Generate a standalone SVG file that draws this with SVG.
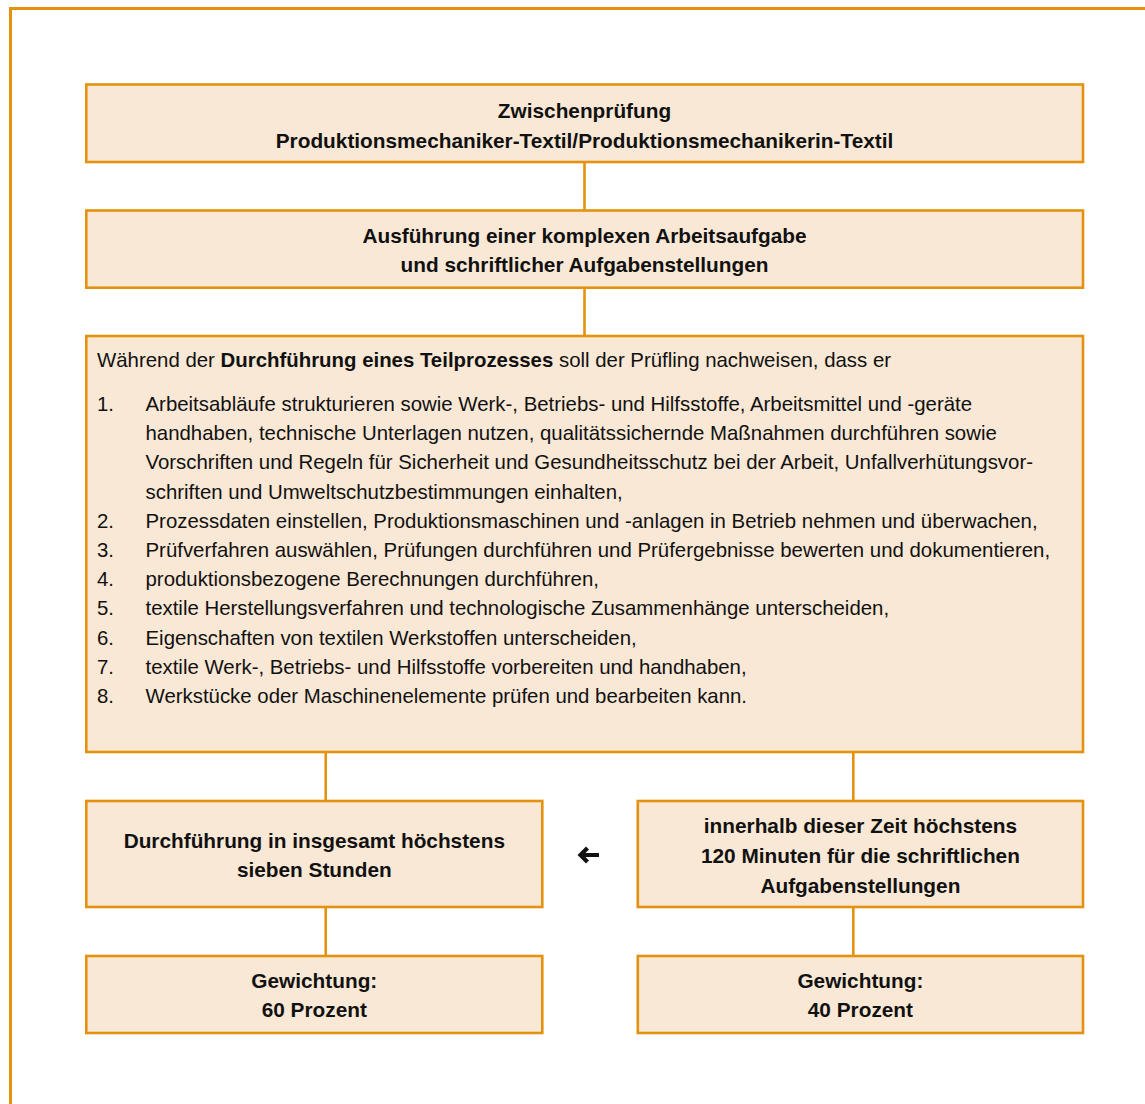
<svg xmlns="http://www.w3.org/2000/svg" width="1145" height="1104" viewBox="0 0 1145 1104">
  <style>
    .box { fill: #F9E8D5; stroke: #E4910E; stroke-width: 2.6; }
    .frame { fill: none; stroke: #E4910E; stroke-width: 3; }
    .link { fill: none; stroke: #E4910E; stroke-width: 2.6; }
    text { font-family: "Liberation Sans", Arial, sans-serif; font-size: 20.4px; fill: #111; }
    .h { font-weight: bold; font-size: 20.8px; text-anchor: middle; }
    .b { font-weight: bold; }
  </style>

  <!-- page frame (left and top edges) -->
  <path class="frame" d="M10.5,1104 V8.5 H1145"/>

  <!-- connectors -->
  <g id="connectors">
    <line class="link" x1="584.5" y1="162" x2="584.5" y2="210.5"/>
    <line class="link" x1="584.5" y1="287.7" x2="584.5" y2="336"/>
    <line class="link" x1="325.7" y1="752" x2="325.7" y2="801"/>
    <line class="link" x1="853.3" y1="752" x2="853.3" y2="801"/>
    <line class="link" x1="325.7" y1="907" x2="325.7" y2="956"/>
    <line class="link" x1="853.3" y1="907" x2="853.3" y2="956"/>
    <!-- left-pointing arrow between the time boxes -->
    <path d="M587.5,848 L580.5,855 L587.5,862 M581,855 H599" fill="none" stroke="#111" stroke-width="4.2"/>
  </g>

  <g id="node-zwischenpruefung">
    <rect class="box" x="86.3" y="84.5" width="996.7" height="77.5"/>
    <text class="h" x="584.5" y="118">Zwischenprüfung</text>
    <text class="h" x="584.5" y="148">Produktionsmechaniker-Textil/Produktionsmechanikerin-Textil</text>
  </g>

  <g id="node-ausfuehrung">
    <rect class="box" x="86.3" y="210.5" width="996.7" height="77.2"/>
    <text class="h" x="584.5" y="243">Ausführung einer komplexen Arbeitsaufgabe</text>
    <text class="h" x="584.5" y="272">und schriftlicher Aufgabenstellungen</text>
  </g>

  <g id="node-anforderungen">
    <rect class="box" x="86.3" y="336" width="996.7" height="416"/>
    <text x="97" y="367">Während der <tspan class="b">Durchführung eines Teilprozesses</tspan> soll der Prüfling nachweisen, dass er</text>
    <g>
      <text x="97" y="411">1.</text>
      <text x="145.5" y="411">Arbeitsabläufe strukturieren sowie Werk-, Betriebs- und Hilfsstoffe, Arbeitsmittel und -geräte</text>
      <text x="145.5" y="440.2">handhaben, technische Unterlagen nutzen, qualitätssichernde Maßnahmen durchführen sowie</text>
      <text x="145.5" y="469.4">Vorschriften und Regeln für Sicherheit und Gesundheitsschutz bei der Arbeit, Unfallverhütungsvor-</text>
      <text x="145.5" y="498.6">schriften und Umweltschutzbestimmungen einhalten,</text>
      <text x="97" y="527.8">2.</text>
      <text x="145.5" y="527.8">Prozessdaten einstellen, Produktionsmaschinen und -anlagen in Betrieb nehmen und überwachen,</text>
      <text x="97" y="557">3.</text>
      <text x="145.5" y="557">Prüfverfahren auswählen, Prüfungen durchführen und Prüfergebnisse bewerten und dokumentieren,</text>
      <text x="97" y="586.2">4.</text>
      <text x="145.5" y="586.2">produktionsbezogene Berechnungen durchführen,</text>
      <text x="97" y="615.4">5.</text>
      <text x="145.5" y="615.4">textile Herstellungsverfahren und technologische Zusammenhänge unterscheiden,</text>
      <text x="97" y="644.6">6.</text>
      <text x="145.5" y="644.6">Eigenschaften von textilen Werkstoffen unterscheiden,</text>
      <text x="97" y="673.8">7.</text>
      <text x="145.5" y="673.8">textile Werk-, Betriebs- und Hilfsstoffe vorbereiten und handhaben,</text>
      <text x="97" y="703">8.</text>
      <text x="145.5" y="703">Werkstücke oder Maschinenelemente prüfen und bearbeiten kann.</text>
    </g>
  </g>

  <g id="node-dauer-gesamt">
    <rect class="box" x="86.3" y="801" width="456" height="106"/>
    <text class="h" x="314.3" y="848">Durchführung in insgesamt höchstens</text>
    <text class="h" x="314.3" y="877">sieben Stunden</text>
  </g>

  <g id="node-dauer-schriftlich">
    <rect class="box" x="637.8" y="801" width="445.2" height="106"/>
    <text class="h" x="860.4" y="833.3">innerhalb dieser Zeit höchstens</text>
    <text class="h" x="860.4" y="863.2">120 Minuten für die schriftlichen</text>
    <text class="h" x="860.4" y="892.8">Aufgabenstellungen</text>
  </g>

  <g id="node-gewichtung-60">
    <rect class="box" x="86.3" y="956" width="456" height="77"/>
    <text class="h" x="314.3" y="988.3">Gewichtung:</text>
    <text class="h" x="314.3" y="1017.3">60 Prozent</text>
  </g>

  <g id="node-gewichtung-40">
    <rect class="box" x="637.8" y="956" width="445.2" height="77"/>
    <text class="h" x="860.4" y="988.3">Gewichtung:</text>
    <text class="h" x="860.4" y="1017.3">40 Prozent</text>
  </g>
</svg>
